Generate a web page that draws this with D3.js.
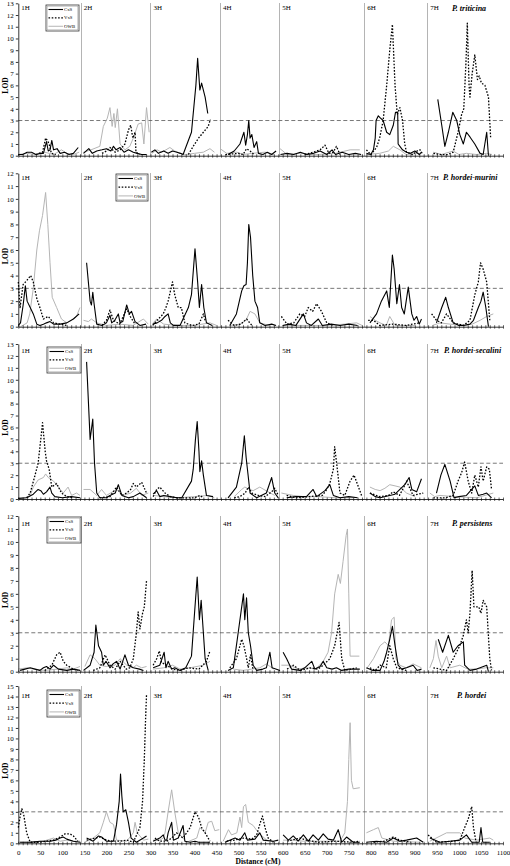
<!DOCTYPE html>
<html><head><meta charset="utf-8">
<script src="https://cdn.jsdelivr.net/npm/d3@7/dist/d3.min.js"></script>
<style>body{margin:0;background:#fff}svg{display:block}</style>
</head><body>
<script>
// ---------- DATA ----------
const species = ["P. triticina", "P. hordei-murini", "P. hordei-secalini", "P. persistens", "P. hordei"];
const lodMax = [13, 12, 13, 12, 15];
const chromosomes = ["1H", "2H", "3H", "4H", "5H", "6H", "7H"];
const chromStarts = [0, 142, 300, 458, 592, 785, 928];
const seriesNames = ["CxS", "VxS", "OWB"];
const threshold = 3;
const xTickLabels = d3.range(0, 1101, 50);
const xTickMinor = d3.range(0, 1101, 10);

const pt_CxS = [[0,0.1],[10,0.1],[20,0.3],[30,0.3],[40,0.1],[50,0.2],[57,0.2],[64,1.2],[68,0.4],[72,0.5],[76,1.3],[80,0.5],[88,0.6],[95,0.2],[105,0.3],[115,0.1],[125,0.2],[136,0.7],null,
[148,0.2],[160,0.6],[168,0.2],[178,0.4],[190,0.5],[200,0.6],[210,0.4],[216,0.8],[222,0.5],[231,0.7],[240,0.3],[250,0.5],[261,0.3],[270,0.2],[280,0.1],[291,0.1],null,
[302,0.3],[310,0.5],[318,0.2],[330,0.4],[340,0.2],[350,0.4],[360,0.3],[368,0.2],[374,0.1],[393,2.0],[403,6.0],[407,8.3],[412,5.6],[416,6.2],[424,5.0],[430,3.6],null,
[476,0.1],[490,0.4],[503,1.0],[512,2.0],[516,0.9],[520,1.8],[523,3.0],[526,1.5],[530,1.8],[535,0.7],[541,1.2],[545,0.2],[555,0.1],[565,0.3],[575,0.1],[585,0.4],null,
[595,0.1],[610,0.2],[625,0.1],[640,0.3],[655,0.1],[670,0.2],[685,0.4],[700,0.1],[712,0.5],[720,0.1],[735,0.3],[750,0.1],[765,0.2],[778,0.1],null,
[790,0.2],[800,0.1],[806,0.5],[810,1.5],[812,3.0],[817,3.4],[822,3.2],[828,3.0],[836,2.0],[843,1.8],[851,2.6],[856,3.7],[861,3.7],[862,1.0],[866,0.8],[872,0.5],[881,0.3],[890,0.2],[900,0.4],[910,0.1],[915,0.3],null,
[952,4.8],[961,2.6],[968,0.8],[976,2.0],[986,3.7],[995,3.0],[1002,1.8],[1010,1.0],[1017,2.0],[1025,1.6],[1036,1.0],[1048,0.2],[1055,0.1],[1063,2.0],[1067,0]];
const pt_VxS = [[40,0.1],[55,0.3],[58,0.8],[62,1.5],[66,1.3],[70,1.0],[75,0.2],[85,0.1],null,
[190,0.2],[200,0.4],[208,0.7],[220,0.3],[231,0.5],[242,1.0],[250,2.2],[255,2.6],[260,1.5],[265,2.0],[267,0.3],[275,0.1],null,
[386,0.1],[397,0.8],[409,1.5],[420,2.0],[431,2.5],[436,3.1],null,
[470,0.1],[500,0.2],[510,0.1],[518,0.6],[526,0.4],[535,0.1],null,
[650,0.1],[670,0.3],[685,0.5],[696,0.9],[705,0.2],[715,0.3],[722,0.8],[730,0.1],null,
[790,0.5],[800,0.1],[813,0.7],[820,1.5],[828,3.0],[836,6.0],[843,9.0],[849,11.2],[855,6.0],[860,3.5],[866,4.1],[872,3.0],[877,1.0],[881,0.3],[895,0.1],[905,0.4],[912,0.5],[918,0.1],null,
[942,0.2],[960,0.1],[975,0.1],[987,0.3],[998,2.0],[1006,3.5],[1011,4.0],[1016,8.0],[1019,11.3],[1023,6.0],[1025,5.0],[1030,7.0],[1036,8.6],[1042,6.5],[1046,6.8],[1051,6.2],[1059,6.0],[1067,5.0],[1072,1.5]];
const pt_OWB = [[0,0.1],[20,0.2],[40,0.1],[60,0.3],[80,0.1],[98,0.5],[110,0.2],[125,0.1],[138,0.3],null,
[148,0.3],[165,0.5],[185,0.8],[193,2.5],[202,3.2],[208,4.1],[213,2.5],[217,3.6],[220,2.4],[225,4.0],[231,1.0],[242,0.5],[253,0.8],[261,1.5],[272,2.7],[280,2.8],[285,1.0],[291,4.1],[297,2.0],null,
[303,0.2],[315,0.5],[325,0.3],[335,0.5],[344,0.7],[355,0.4],[367,0.2],[380,0.1],[400,0.2],[420,0.3],[435,0.6],[445,0.3],null,
[458,0.6],[473,0.2],[496,0.3],[510,0.1],[530,0.2],[560,0.3],[580,0.1],null,
[594,0.6],[610,0.1],[640,0.2],[680,0.1],[720,0.2],[753,0.5],[775,0.5],null,
[790,0.1],[820,0.2],[840,0.4],[851,0.8],[866,0.5],[880,0.1],[910,0.2],null,
[942,0.3],[960,0.1],[987,0.4],[1000,0.1],[1017,0.2],[1040,0.1],[1063,0.2],[1075,0.1]];

const phm_CxS = [[0,0.1],[5,0.3],[11,1.7],[16,3.2],[20,2.0],[27,1.5],[34,1.0],[42,0.2],[49,0.1],[57,0.2],[64,0.3],[72,0.4],[80,0.2],[95,0.2],[110,0.3],[125,0.6],[138,1.0],null,
[155,5.0],[163,2.0],[166,1.7],[169,2.7],[172,1.8],[178,0.2],[190,0.1],[200,0.3],[208,0.9],[212,0.3],[219,0.5],[227,1.0],[231,0.3],[237,0.4],[246,1.7],[252,1.0],[257,1.2],[265,0.4],[276,0.1],[290,0.2],null,
[305,0.2],[315,0.3],[325,0.5],[333,0.8],[340,1.0],[345,0.3],[352,0.1],[367,0.1],[386,1.5],[393,2.5],[401,6.1],[407,3.5],[411,1.5],[416,3.3],[421,1.5],[427,0.3],[440,0.1],null,
[480,0.1],[495,1.0],[507,2.8],[512,3.2],[517,3.3],[520,5.0],[523,8.0],[527,7.0],[532,4.0],[537,2.0],[543,1.5],[548,0.3],[560,0.1],[575,0.2],[585,0.1],null,
[600,0.1],[615,0.2],[630,0.1],[647,1.0],[654,0.3],[665,0.1],[681,0.6],[690,0.1],[710,0.2],[730,0.1],[750,0.2],[770,0.1],null,
[798,0.3],[813,1.0],[824,2.0],[836,2.8],[842,1.5],[849,5.6],[853,4.5],[859,1.8],[865,3.3],[870,1.5],[876,1.0],[885,3.1],[893,1.0],[898,0.5],[904,0.8],[910,0.2],[915,0.6],null,
[949,0.3],[961,1.5],[970,2.3],[976,1.5],[987,0.3],[1000,0.1],[1010,0.1],[1025,0.2],[1033,0.5],[1044,1.5],[1050,2.0],[1055,2.7],[1061,1.5],[1067,0]];
const phm_VxS = [[0,3.5],[4,1.5],[11,3.3],[19,3.6],[28,4.0],[34,3.5],[42,2.2],[49,1.5],[57,0.6],[68,0.8],[80,0.3],[95,0.2],[110,0.1],null,
[190,0.1],[200,0.5],[208,1.3],[216,0.5],[230,0.2],[246,1.4],[254,0.8],[265,0.2],null,
[305,0.1],[315,0.5],[329,1.0],[335,1.5],[340,2.0],[350,3.5],[355,2.5],[363,1.5],[370,1.5],[378,0.3],[395,0.1],[410,0.2],[420,1.0],[424,0.5],null,
[476,0.5],[490,0.1],[505,0.2],[518,0.6],[530,0.1],null,
[597,0.8],[610,0.2],[625,0.3],[639,1.0],[650,0.8],[658,1.5],[668,1.2],[677,1.8],[688,1.2],[700,0.3],[715,0.1],null,
[794,0.5],[806,0.5],[820,0.1],[850,0.2],[880,0.1],[910,0.3],null,
[938,1.0],[949,0.5],[960,0.3],[972,1.0],[987,0.3],[1010,0.1],[1025,0.5],[1036,2.5],[1044,3.5],[1049,5.0],[1055,4.5],[1063,3.5],[1070,0.5]];
const phm_OWB = [[5,0],[20,0.3],[26,1.0],[34,3.0],[42,6.0],[48,7.5],[55,8.7],[62,10.5],[67,8.0],[72,5.0],[77,2.3],[87,1.5],[98,0.6],[110,0.3],[120,0.5],[132,0.8],[140,1.5],null,
[148,0.5],[159,0.4],[166,0.6],[178,0.3],[200,0.1],[230,0.2],[260,0.1],[284,0.6],[295,0.2],null,
[306,0.3],[314,0.6],[330,0.2],[360,0.1],[400,0.1],[435,0.3],[450,0.1],null,
[480,0.1],[505,0.2],[518,0.6],[526,1.2],[537,1.0],[548,0.3],[570,0.1],null,
[600,0.1],[650,0.1],[700,0.1],[740,0.2],[768,0.3],[780,0.1],null,
[798,0.8],[810,0.5],[821,0.3],[835,0.1],[843,0.8],[855,0.1],[900,0.1],null,
[940,0.1],[957,0.3],[980,0.2],[1010,0.1],[1030,0.2],[1048,0.5],[1063,0.8],[1078,1.0]];

const phs_CxS = [[0,0.05],[19,0.1],[34,0.4],[45,0.8],[51,0.7],[57,0.4],[64,0.6],[72,1.0],[76,0.5],[83,0.2],[100,0.1],[120,0.2],[140,0.1],null,
[155,11.5],[163,5.0],[169,6.7],[173,3.0],[178,0.5],[185,0.1],[200,0.1],[208,0.3],[220,0.5],[227,1.2],[235,0.3],[250,0.1],[261,0.2],[276,0.5],[291,0.1],null,
[306,0.4],[314,0.7],[321,0.2],[330,0.3],[345,0.2],[360,0.1],[371,0.1],[393,1.5],[397,2.5],[402,5.0],[406,6.5],[410,4.0],[412,2.3],[416,3.2],[420,2.0],[427,0.3],[442,0.2],null,
[476,0.1],[495,1.0],[507,3.0],[513,5.3],[517,3.5],[520,2.5],[526,0.5],[541,0.1],[563,0.5],[575,1.8],[582,0.5],[590,0.1],null,
[609,0.1],[630,0.2],[654,0.2],[669,0.8],[677,0.2],[696,0.7],[707,1.2],[715,0.3],[730,0.1],[750,0.2],[770,0.1],null,
[798,0.5],[810,0.2],[821,0.1],[843,0.3],[855,0.4],[866,0.8],[877,1.2],[887,1.8],[893,0.8],[904,0.6],[915,1.7],null,
[949,0.5],[959,2.0],[968,2.9],[980,1.5],[989,0.1],[1000,0.2],[1017,0.3],[1029,0.8],[1036,1.1],[1044,0.3],[1055,0.4],[1063,0.5],[1074,0.1]];
const phs_VxS = [[19,0.1],[27,0.5],[38,2.0],[45,3.0],[51,5.0],[55,6.4],[61,4.0],[64,3.2],[70,2.5],[76,1.0],[87,1.3],[98,0.5],[110,0.2],[125,0.1],null,
[185,0.1],[208,0.2],[223,1.0],[235,0.3],[246,0.5],[255,0.8],[261,1.3],[268,1.0],[280,1.4],[291,0.5],null,
[306,0.2],[314,0.8],[321,1.0],[333,0.5],[345,0.2],[360,0.1],[400,0.1],[412,0.3],[420,0.1],null,
[490,0.1],[503,0.2],[515,0.5],[522,1.0],[530,0.5],[545,0.3],[560,0.2],[575,0.6],[582,0.9],[590,0.3],null,
[609,0.3],[630,0.1],[660,0.2],[690,0.3],[700,0.8],[707,1.3],[715,2.5],[718,4.4],[724,2.5],[730,0.5],[741,0.3],[753,1.5],[762,2.0],[772,1.0],[779,0.3],null,
[798,0.5],[820,0.2],[840,0.3],[851,0.6],[865,0.3],[875,1.0],[881,1.5],[896,0.3],[919,0.5],null,
[942,0.1],[970,0.1],[987,0.3],[998,1.5],[1006,2.2],[1013,3.1],[1021,1.5],[1029,0.5],[1036,2.0],[1044,1.0],[1050,2.7],[1055,1.5],[1063,2.7],[1069,2.5],[1074,0.8]];
const phs_OWB = [[0,0],[26,0.2],[34,1.0],[45,1.6],[57,1.8],[62,2.1],[68,1.8],[80,1.5],[91,1.0],[102,0.5],[113,1.0],[121,0.3],[132,0.5],[140,0.3],null,
[148,0.8],[163,0.8],[178,0.3],[189,0.8],[200,0.3],[223,0.8],[238,0.3],[255,0.5],[268,0.9],[280,0.3],[295,0.5],null,
[306,0.3],[330,0.2],[360,0.1],[400,0.2],[431,0.3],[445,0.1],null,
[490,0.2],[507,0.8],[514,1.0],[525,0.8],[533,0.7],[548,1.0],[567,0.6],[582,0.3],null,
[597,0.5],[610,0.4],[624,0.3],[647,0.2],[680,0.2],[720,0.1],[760,0.1],null,
[798,1.0],[810,0.8],[821,0.7],[832,0.9],[843,1.2],[855,1.1],[866,1.0],[881,0.5],[900,0.2],null,
[934,0.5],[945,0.2],[957,0.3],[990,0.2],[1040,0.1],[1078,0.5]];

const pp_CxS = [[4,0.1],[15,0.2],[27,0.3],[38,0.2],[49,0.1],[57,0.3],[64,0.4],[72,0.2],[80,0.5],[91,0.2],[110,0.1],[125,0.2],[140,0.1],null,
[148,0.1],[163,0.5],[172,1.5],[176,3.6],[182,2.0],[189,1.5],[193,0.5],[199,0.8],[208,0.3],[215,0.6],[223,0.8],[231,0.2],[242,1.3],[250,0.5],[261,0.3],[275,0.2],[284,0.1],null,
[306,0.3],[321,0.5],[331,1.5],[335,0.3],[340,0.8],[348,0.2],[355,0.3],[367,0.1],[380,0.3],[393,1.2],[401,5.0],[406,7.3],[411,4.0],[415,5.5],[418,4.0],[424,1.0],[431,0.1],null,
[476,0.1],[488,0.3],[499,3.0],[507,5.0],[511,6.0],[514,4.0],[518,5.7],[522,3.0],[527,2.0],[533,0.5],[541,0.1],[555,0.2],[563,0.3],[571,1.5],[576,0.3],[594,0.1],null,
[601,1.5],[609,1.0],[620,0.2],[639,0.1],[650,0.3],[666,0.8],[673,0.2],[685,0.4],[692,0.8],[700,0.3],[712,0.2],[722,0.3],[734,0.1],[750,0.2],[775,0.2],null,
[790,0.3],[805,0.1],[821,0.1],[830,0.8],[836,1.5],[843,2.5],[849,3.5],[855,2.0],[862,0.5],[870,0.2],[881,0.3],[896,0.5],[905,0.1],[915,0.2],null,
[953,2.5],[963,1.5],[976,2.8],[987,1.5],[998,2.0],[1010,2.3],[1013,0.5],[1025,0.1],[1040,0.2],[1048,0.3],[1063,0.5],[1067,0]];
const pp_VxS = [[60,0.1],[76,0.5],[87,1.3],[95,1.5],[102,0.8],[110,0.5],[125,0.2],[135,0.1],null,
[170,0.1],[185,0.3],[197,1.3],[208,0.5],[220,0.2],[231,0.8],[245,0.2],[253,0.3],[261,1.0],[268,3.0],[272,4.6],[276,3.3],[282,4.5],[286,5.0],[291,7.0],null,
[306,0.5],[314,1.0],[320,1.6],[325,0.7],[337,0.5],[350,0.2],[367,0.1],[386,0.3],[410,0.2],[427,0.8],[435,1.6],null,
[480,0.3],[495,1.0],[507,2.5],[512,2.0],[517,1.2],[522,0.3],[527,1.3],[533,0.1],null,
[610,0.2],[624,0.5],[640,0.1],[662,0.3],[680,0.2],[692,0.5],[707,1.0],[718,2.0],[728,3.8],[734,1.0],[741,0.1],[768,0.3],null,
[798,0.3],[810,0.1],[821,0.5],[835,0.3],[843,2.0],[851,1.0],[859,0.3],[880,0.1],null,
[942,0.3],[972,0.1],[987,1.0],[1002,2.0],[1010,2.8],[1017,4.0],[1021,3.0],[1025,4.5],[1030,7.8],[1034,5.0],[1040,5.0],[1045,5.0],[1050,4.5],[1055,5.5],[1063,5.0],[1070,1.0],[1074,0.1]];
const pp_OWB = [[0,0.2],[20,0.3],[34,0.2],[60,0.1],[90,0.2],[110,0.3],[125,0.2],[140,0.4],null,
[151,0.4],[163,1.3],[174,1.0],[185,0.5],[200,0.4],[208,0.5],[219,0.5],[231,1.0],[246,0.5],[260,0.3],[268,0.5],[280,0.3],[291,0.4],null,
[306,0.2],[330,0.3],[350,0.5],[367,0.2],[390,0.3],[420,0.5],[435,0.8],null,
[488,0.2],[510,0.1],[530,0.2],[548,0.3],[563,0.6],[580,0.2],null,
[597,0.5],[616,0.5],[635,0.2],[654,0.3],[675,0.2],[692,0.8],[703,1.5],[711,3.0],[718,6.0],[726,7.5],[731,6.8],[737,8.5],[744,10.5],[747,11.0],[750,6.0],[753,1.2],[774,1.2],null,
[790,0.2],[806,1.0],[821,2.0],[832,2.3],[840,2.0],[847,4.0],[853,4.2],[857,1.0],[866,0.5],[880,0.3],[896,0.6],[915,0.3],null,
[934,0.3],[942,1.0],[948,2.4],[953,1.2],[961,0.3],[972,1.2],[980,0.3],[1002,0.5],[1020,0.2],[1040,0.2],[1060,0.3],[1078,0.3]];

const ph_CxS = [[4,0.1],[27,0.1],[49,0.2],[72,0.2],[85,0.3],[95,0.5],[102,0.6],[110,0.4],[125,0.2],[140,0.1],null,
[155,0.5],[170,0.2],[182,0.7],[189,0.6],[200,0.2],[216,0.2],[223,1.8],[229,4.0],[232,6.6],[235,4.5],[238,3.0],[244,3.2],[250,2.0],[256,0.5],[268,0.1],[284,0.5],[291,0.7],null,
[306,0.2],[321,0.5],[329,0.8],[333,0.3],[337,0.3],[340,1.0],[348,2.0],[352,0.3],[363,0.5],[374,1.7],[378,0.2],[390,0.1],[401,0.2],[409,0.1],[435,0.1],null,
[469,0.1],[492,0.5],[503,0.3],[514,1.0],[520,0.3],[537,0.4],[548,1.0],[556,0.3],[579,0.2],[590,0.3],null,
[601,0.8],[613,0.3],[624,0.7],[635,0.2],[647,0.8],[658,0.2],[669,0.8],[681,0.3],[692,0.9],[703,0.4],[715,0.3],[726,1.3],[734,0.1],[745,0.6],[760,0.1],[775,0.1],null,
[790,0.1],[813,0.2],[836,0.1],[851,0.5],[866,0.2],[881,0.3],[904,0.5],[919,0.1],null,
[934,0.5],[957,0.1],[980,0.2],[1002,0.3],[1017,0.8],[1029,0.1],[1046,0.1],[1050,1.5],[1054,0.1],[1070,0.1]];
const ph_VxS = [[0,1.5],[4,2.5],[8,3.3],[12,2.8],[19,1.0],[27,0.1],[49,0.1],[80,0.3],[95,0.6],[106,0.9],[117,0.9],[125,0.7],[135,0.2],null,
[155,0.3],[185,0.6],[200,0.3],[216,0.2],[231,0.2],[246,0.3],[261,0.1],[276,1.5],[282,4.0],[286,8.0],[289,12.0],[291,14.2],null,
[310,0.5],[321,0.2],[337,0.2],[348,0.5],[359,1.0],[374,0.5],[390,1.5],[401,3.0],[409,2.5],[416,1.5],[424,1.0],[435,0.2],null,
[473,0.2],[490,0.3],[511,0.5],[530,0.4],[541,0.8],[548,1.8],[554,2.6],[560,1.5],[567,0.5],[579,0.1],null,
[610,0.2],[639,0.5],[654,0.3],[680,0.1],[720,0.2],[760,0.1],[775,0.2],null,
[806,0.1],[830,0.2],[851,0.6],[866,0.3],[890,0.1],null,
[930,0.8],[949,0.1],[987,0.2],[1002,0.3],[1013,1.5],[1021,2.3],[1029,3.5],[1033,1.5],[1039,0.1]];
const ph_OWB = [[0,0.1],[30,0.1],[57,0.2],[80,0.5],[95,0.2],[110,0.3],[125,0.2],[140,0.2],null,
[151,0.1],[170,0.5],[185,1.0],[193,2.0],[200,3.0],[208,2.0],[216,1.8],[223,0.3],[246,0.2],[261,1.0],[265,2.0],[270,1.0],[284,0.3],[295,0.4],null,
[306,0.3],[321,0.3],[329,0.5],[333,1.0],[340,3.0],[348,5.1],[355,3.0],[363,1.0],[382,0.1],[405,0.5],[412,1.5],[424,1.0],[431,2.0],[439,2.1],[446,1.2],[456,1.3],null,
[465,0.2],[477,1.3],[484,0.8],[496,1.0],[503,2.5],[507,1.5],[511,3.5],[516,3.7],[522,2.0],[533,1.7],[545,1.0],[564,0.3],[582,0.1],null,
[601,0.3],[624,0.3],[647,0.2],[700,0.2],[730,0.2],[741,1.0],[747,4.0],[750,8.0],[753,11.5],[756,6.0],[760,5.2],[775,5.3],null,
[790,1.0],[806,1.3],[817,1.5],[825,0.5],[851,0.2],[912,0.1],null,
[934,0.2],[972,1.0],[1002,1.0],[1013,0.5],[1040,0.3],[1070,0.5],[1078,0.3]];

const panelSeries = [
  [pt_CxS, pt_VxS, pt_OWB],
  [phm_CxS, phm_VxS, phm_OWB],
  [phs_CxS, phs_VxS, phs_OWB],
  [pp_CxS, pp_VxS, pp_OWB],
  [ph_CxS, ph_VxS, ph_OWB]
];

// ---------- LAYOUT / STYLE ----------
const W = 510, H = 866;
const layout = [
  {top: 3.3,  base: 155.7, legend: [46, 5, 33, 26],   titleX: 452, titleY: 11,  chromY: 10},
  {top: 173.3, base: 326.7, legend: [116, 174, 32, 27], titleX: 443, titleY: 180, chromY: 180},
  {top: 344,  base: 499,   legend: [47, 347, 34, 26],  titleX: 444, titleY: 353, chromY: 353},
  {top: 516,  base: 671.7, legend: [47, 517, 34, 26],  titleX: 452, titleY: 526, chromY: 526},
  {top: 686,  base: 843.3, legend: [47, 690, 33, 27],  titleX: 457, titleY: 698, chromY: 698}
];
const style = [
  {stroke: "#000", width: 1.1, dash: null},
  {stroke: "#000", width: 1.3, dash: "1.6,1.6"},
  {stroke: "#b5b5b5", width: 1.0, dash: null}
];
const serif = "'Liberation Serif','Times New Roman',serif";

const svg = d3.select("body").append("svg").attr("width", W).attr("height", H);
const x = d3.scaleLinear().domain([0, 1100]).range([18.3, 503]);

layout.forEach((L, i) => {
  const y = d3.scaleLinear().domain([0, lodMax[i]]).range([L.base, L.top]);
  const g = svg.append("g");

  // chromosome boundary lines
  g.selectAll("line.chr").data(chromStarts.slice(1)).join("line")
    .attr("x1", d => Math.round(x(d)) + 0.5).attr("x2", d => Math.round(x(d)) + 0.5)
    .attr("y1", L.top).attr("y2", L.base)
    .attr("stroke", "#b4b4b4").attr("stroke-width", 1).attr("shape-rendering", "crispEdges");

  // chromosome labels
  g.selectAll("text.chr").data(chromosomes).join("text")
    .attr("x", (d, k) => k === 0 ? x(0) + 3 : x(chromStarts[k]) + 3)
    .attr("y", L.chromY)
    .attr("font-family", serif).attr("font-size", 7).text(d => d);

  // threshold
  g.append("line").attr("x1", x(0)).attr("x2", x(1100))
    .attr("y1", y(threshold)).attr("y2", y(threshold))
    .attr("stroke", "#555").attr("stroke-width", 0.8).attr("stroke-dasharray", "4,2.5");

  // series (OWB below, then VxS, then CxS)
  const line = d3.line().defined(d => d !== null).x(d => x(d[0])).y(d => y(d[1]));
  [2, 1, 0].forEach(s => {
    g.append("path").datum(panelSeries[i][s])
      .attr("d", line).attr("fill", "none")
      .attr("stroke", style[s].stroke).attr("stroke-width", style[s].width)
      .attr("stroke-dasharray", style[s].dash)
      .attr("stroke-linejoin", "round");
  });

  // y axis
  const yAx = g.append("g").attr("transform", `translate(${x(0)},0)`)
    .call(d3.axisLeft(y).tickValues(d3.range(0, lodMax[i] + 1)).tickSize(2.5).tickSizeOuter(0).tickPadding(2));
  yAx.selectAll("text").attr("font-family", serif).attr("font-size", 7).attr("fill", "#000");
  yAx.select(".domain").attr("stroke", "#000").attr("stroke-width", 0.8);
  yAx.selectAll(".tick line").attr("stroke", "#000").attr("stroke-width", 0.8);

  // x axis
  const xAx = g.append("g").attr("transform", `translate(0,${L.base})`)
    .call(d3.axisBottom(x).tickValues(xTickMinor).tickSize(2).tickSizeOuter(0)
      .tickFormat(d => (i === layout.length - 1 && xTickLabels.includes(d)) ? d : ""));
  xAx.select(".domain").attr("stroke", "#000").attr("stroke-width", 0.8);
  xAx.selectAll(".tick line").attr("stroke", "#000").attr("stroke-width", 0.6).attr("y1", -1.5);
  xAx.selectAll("text").attr("font-family", serif).attr("font-size", 7).attr("fill", "#000").attr("dy", "0.9em");

  // LOD label
  g.append("text")
    .attr("transform", `translate(8,${(L.top + L.base) / 2 + 6}) rotate(-90)`)
    .attr("text-anchor", "middle").attr("font-family", serif)
    .attr("font-weight", "bold").attr("font-size", 7.5).text("LOD");

  // species title
  g.append("text").attr("x", L.titleX).attr("y", L.titleY)
    .attr("font-family", serif).attr("font-weight", "bold").attr("font-style", "italic")
    .attr("font-size", 8).text(species[i]);

  // legend
  const [lx, ly, lw, lh] = L.legend;
  const lg = g.append("g");
  lg.append("rect").attr("x", lx).attr("y", ly).attr("width", lw).attr("height", lh)
    .attr("fill", "#fff").attr("stroke", "#333").attr("stroke-width", 0.8);
  lg.append("rect").attr("x", lx + 1.2).attr("y", ly + 1.2).attr("width", lw - 2.4).attr("height", lh - 2.4)
    .attr("fill", "none").attr("stroke", "#999").attr("stroke-width", 0.4);
  seriesNames.forEach((nm, s) => {
    const yy = ly + 4.5 + s * lh / 3.1;
    lg.append("line").attr("x1", lx + 2.5).attr("x2", lx + 17).attr("y1", yy).attr("y2", yy)
      .attr("stroke", style[s].stroke).attr("stroke-width", style[s].width)
      .attr("stroke-dasharray", style[s].dash);
    lg.append("text").attr("x", lx + 18).attr("y", yy + 1.6)
      .attr("font-family", serif).attr("font-size", 4.8).text(nm);
  });
});

// x axis title
svg.append("text").attr("x", 258).attr("y", 864).attr("text-anchor", "middle")
  .attr("font-family", serif).attr("font-weight", "bold").attr("font-size", 7.5).text("Distance (cM)");
</script>
</body></html>
